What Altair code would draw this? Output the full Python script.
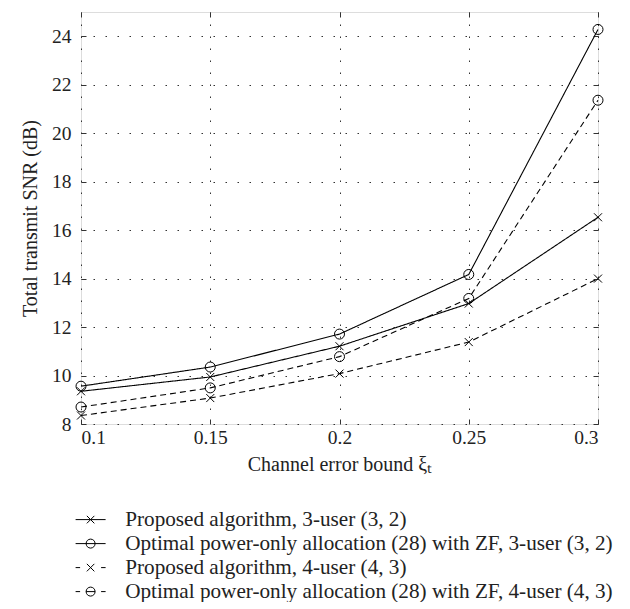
import altair as alt
import pandas as pd

# ---- data ----
xi_values = [0.1, 0.15, 0.2, 0.25, 0.3]
proposed_3user = [9.35, 9.94, 11.21, 12.97, 16.53]
optimal_3user = [9.56, 10.35, 11.71, 14.17, 24.28]
proposed_4user = [8.35, 9.07, 10.08, 11.38, 14.00]
optimal_4user = [8.70, 9.49, 10.78, 13.18, 21.36]

series_names = [
    "Proposed algorithm, 3-user (3, 2)",
    "Optimal power-only allocation (28) with ZF, 3-user (3, 2)",
    "Proposed algorithm, 4-user (4, 3)",
    "Optimal power-only allocation (28) with ZF, 4-user (4, 3)",
]
series_markers = ["x", "o", "x", "o"]
y_ticks = [8, 10, 12, 14, 16, 18, 20, 22, 24]

rows = []
for name, vals, mk in zip(series_names,
                          [proposed_3user, optimal_3user, proposed_4user, optimal_4user],
                          series_markers):
    for x, v in zip(xi_values, vals):
        rows.append({"xi": x, "snr": v, "series": name, "marker": mk})
df = pd.DataFrame(rows)

FONT = "Liberation Serif"
FS = 19.5
TXT = "#222"
xs = alt.Scale(domain=[0.1, 0.3], nice=False, zero=False)
ys = alt.Scale(domain=[8, 25], nice=False, zero=False)

cross_path = "M-0.8,-0.8L0.8,0.8M-0.8,0.8L0.8,-0.8"

# legend symbol paths (line + marker)
circ = "M-0.9,0A0.9,0.9,0,1,0,0.9,0A0.9,0.9,0,1,0,-0.9,0"
crs = "M-0.75,-0.75L0.75,0.75M-0.75,0.75L0.75,-0.75"
legend_paths = [
    "M-3,0L3,0" + crs,
    "M-3,0L3,0" + circ,
    "M-3,0L-2.1,0M2.1,0L3,0" + crs,
    "M-3,0L-2.1,0M2.1,0L3,0M-0.9,0L0.9,0" + circ,
]

base = alt.Chart(df)

x_axis = alt.Axis(values=xi_values, format=".2~f", title="Channel error bound ξₜ",
                  grid=True, gridDash=[1.5, 10.5], gridColor="#333", gridWidth=1,
                  domain=False, ticks=True, tickSize=5, offset=-5, tickColor="#333",
                  labelPadding=4, titlePadding=8, labelFont=FONT, labelFontSize=FS,
                  titleFont=FONT, titleFontSize=FS + 0.5, titleFontWeight="normal",
                  labelColor=TXT, titleColor=TXT)
y_axis = alt.Axis(values=y_ticks, title="Total transmit SNR (dB)",
                  grid=True, gridDash=[1.5, 10.5], gridColor="#333", gridWidth=1,
                  domain=False, ticks=True, tickSize=5, offset=-5, tickColor="#333",
                  labelPadding=10, titlePadding=11, labelFont=FONT, labelFontSize=FS,
                  titleFont=FONT, titleFontSize=FS + 0.5, titleFontWeight="normal",
                  labelColor=TXT, titleColor=TXT)

lines = base.mark_line(color="black", strokeWidth=1.1).encode(
    x=alt.X("xi:Q", scale=xs, axis=x_axis),
    y=alt.Y("snr:Q", scale=ys, axis=y_axis),
    strokeDash=alt.StrokeDash("series:N",
                              scale=alt.Scale(domain=series_names,
                                              range=[[1, 0], [1, 0], [6, 4], [6, 4]]),
                              legend=None),
    detail="series:N",
)

points = base.mark_point(filled=False, color="black", strokeWidth=1, size=100, opacity=1).encode(
    x=alt.X("xi:Q", scale=xs, axis=None),
    y=alt.Y("snr:Q", scale=ys, axis=None),
    shape=alt.Shape("marker:N", scale=alt.Scale(domain=["x", "o"], range=[cross_path, "circle"]),
                    legend=None),
)

legend_layer = base.mark_point(filled=False, color="black", opacity=0).encode(
    x=alt.X("xi:Q", scale=xs, axis=None),
    y=alt.Y("snr:Q", scale=ys, axis=None),
    shape=alt.Shape("series:N", scale=alt.Scale(domain=series_names, range=legend_paths),
                    legend=alt.Legend(title=None, orient="none", legendX=-1, legendY=497,
                                      direction="vertical", symbolSize=100,
                                      symbolStrokeWidth=1, symbolStrokeColor="black",
                                      symbolFillColor="transparent", symbolOpacity=1,
                                      labelFont=FONT, labelFontSize=21.2, labelColor=TXT,
                                      labelOffset=24, rowPadding=2, labelLimit=700)),
)

mirror = base.mark_point(opacity=0).encode(
    x=alt.X("xi:Q", scale=xs, axis=alt.Axis(orient="top", values=xi_values, labels=False,
                                             title=None, grid=False, domain=False,
                                             tickSize=5, offset=-5, tickColor="#333")),
    y=alt.Y("snr:Q", scale=ys, axis=alt.Axis(orient="right", values=y_ticks, labels=False,
                                              title=None, grid=False, domain=False,
                                              tickSize=5, offset=-5, tickColor="#333")),
)

chart = alt.layer(lines, points, legend_layer, mirror).resolve_scale(
    shape="independent"
).resolve_axis(
    x="independent", y="independent"
).properties(
    width=517, height=412,
    padding={"left": 12, "top": 3, "right": 5, "bottom": 0},
).configure_view(
    stroke="#333", strokeWidth=1.2
).configure(background="white")

chart.save("out.html", embed_options={"renderer": "svg", "actions": False})
